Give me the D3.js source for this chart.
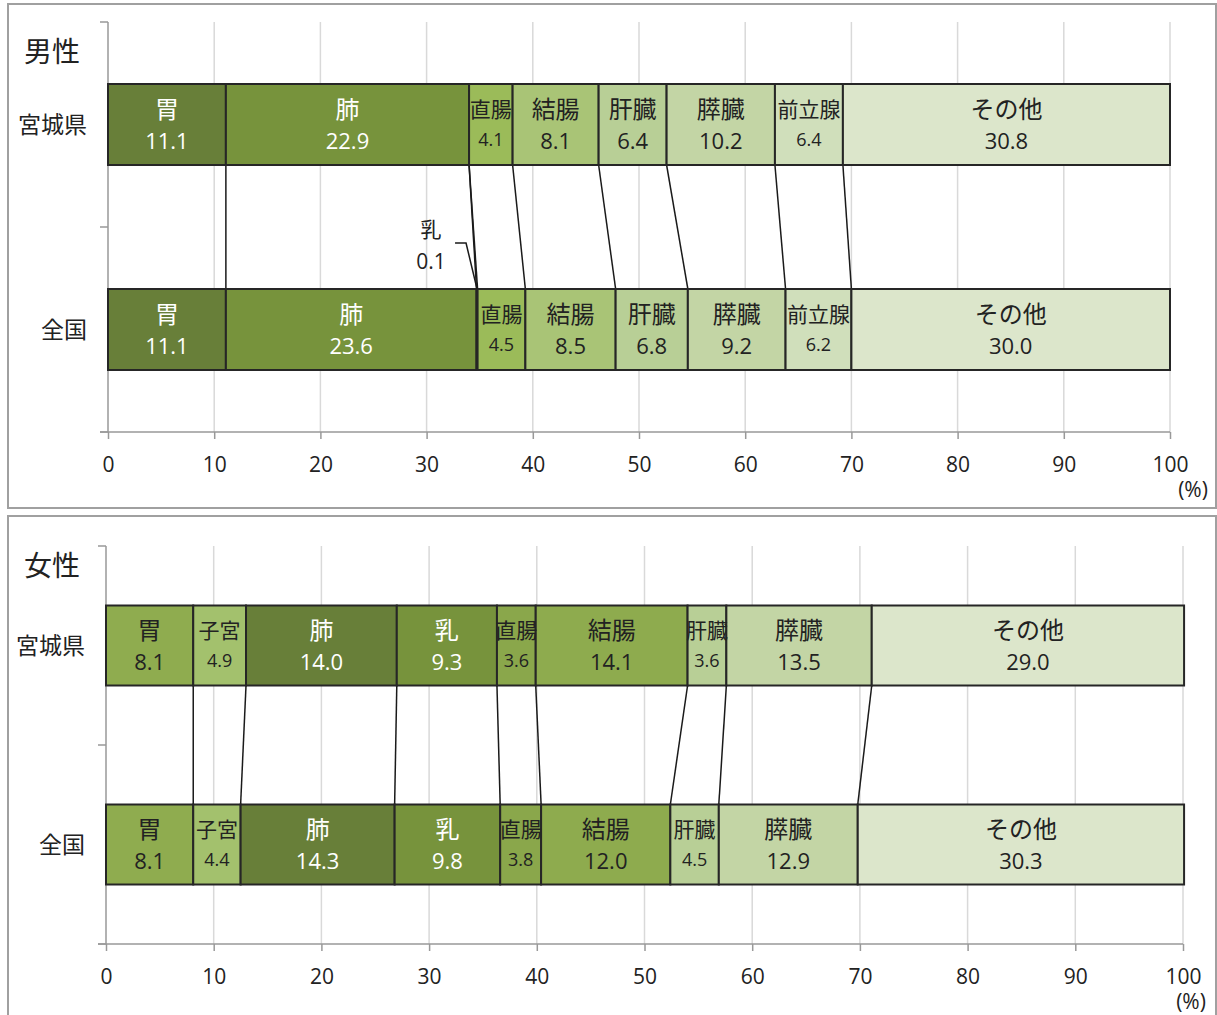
<!DOCTYPE html>
<html><head><meta charset="utf-8">
<script src="https://cdn.jsdelivr.net/npm/d3@7"></script>
<style>
html,body{margin:0;padding:0;background:#fff;}
svg{display:block;font-family:"Noto Sans CJK JP","Noto Sans",sans-serif;}
</style></head>
<body>
<script>
// ---- data ----
const regions = ['宮城県', '全国'];
const xTicks = [0, 10, 20, 30, 40, 50, 60, 70, 80, 90, 100];

const maleTitle = '男性';
const maleCats = ['胃', '肺', '乳', '直腸', '結腸', '肝臓', '膵臓', '前立腺', 'その他'];
const maleMiyagi = [11.1, 22.9, 0, 4.1, 8.1, 6.4, 10.2, 6.4, 30.8];
const maleNational = [11.1, 23.6, 0.1, 4.5, 8.5, 6.8, 9.2, 6.2, 30.0];
const maleColors = ['#687f39', '#77933c', '#8aa74a', '#9bbb59', '#a9c476', '#b8cf96', '#c3d5a5', '#d0dfbb', '#dce6cb'];
const maleText = ['#fff', '#fff', '#222', '#222', '#222', '#222', '#222', '#222', '#222'];

const femaleTitle = '女性';
const femaleCats = ['胃', '子宮', '肺', '乳', '直腸', '結腸', '肝臓', '膵臓', 'その他'];
const femaleMiyagi = [8.1, 4.9, 14.0, 9.3, 3.6, 14.1, 3.6, 13.5, 29.0];
const femaleNational = [8.1, 4.4, 14.3, 9.8, 3.8, 12.0, 4.5, 12.9, 30.3];
const femaleColors = ['#8fac4f', '#a3c16d', '#687f39', '#77933c', '#8aa74b', '#8eab4e', '#b8cf96', '#c3d5a5', '#dce6cb'];
const femaleText = ['#222', '#222', '#fff', '#fff', '#222', '#222', '#222', '#222', '#222'];

// ---- layout ----
const W = 1217, H = 1015;
const svg = d3.select('body').append('svg').attr('width', W).attr('height', H);

const panels = [
  {title: maleTitle, cats: maleCats, vals: [maleMiyagi, maleNational], colors: maleColors, text: maleText,
   frame: [8, 4, 1208, 504], x0: 108, x1: 1170, yTop: 22, yBot: 432, barH: 81, titleY: 52, pctX: 1193},
  {title: femaleTitle, cats: femaleCats, vals: [femaleMiyagi, femaleNational], colors: femaleColors, text: femaleText,
   frame: [8, 516, 1208, 510], x0: 106, x1: 1183, yTop: 546, yBot: 944, barH: 80, titleY: 566, pctX: 1191}
];

panels.forEach(p => {
  const g = svg.append('g');
  g.append('rect').attr('x', p.frame[0]).attr('y', p.frame[1]).attr('width', p.frame[2]).attr('height', p.frame[3])
    .attr('fill', '#fff').attr('stroke', '#a0a0a0').attr('stroke-width', 2);

  const x = d3.scaleLinear().domain([0, 100]).range([p.x0, p.x1]);
  const y = d3.scalePoint().domain(regions).range([p.yTop, p.yBot]).padding(0.5);
  const step = y.step();

  // gridlines
  g.append('g').selectAll('line').data(xTicks.filter(t => t > 0)).join('line')
    .attr('x1', d => x(d)).attr('x2', d => x(d)).attr('y1', p.yTop).attr('y2', p.yBot)
    .attr('stroke', '#d9d9d9').attr('stroke-width', 1.5);

  // y axis
  g.append('line').attr('x1', p.x0).attr('x2', p.x0).attr('y1', p.yTop).attr('y2', p.yBot)
    .attr('stroke', '#999').attr('stroke-width', 1.5);
  const yEdges = [p.yTop, p.yTop + step, p.yBot];
  g.append('g').selectAll('line').data(yEdges).join('line')
    .attr('x1', p.x0 - 8).attr('x2', p.x0).attr('y1', d => d).attr('y2', d => d)
    .attr('stroke', '#999').attr('stroke-width', 1.5);

  // x axis
  const ax = g.append('g').attr('transform', `translate(0,${p.yBot})`)
    .call(d3.axisBottom(x).tickValues(xTicks).tickSize(7).tickSizeOuter(0).tickFormat(d3.format('d')));
  ax.select('.domain').remove();
  ax.append('line').attr('x1', p.x0 - 8).attr('x2', p.x1).attr('stroke', '#999').attr('stroke-width', 1.5);
  ax.selectAll('.tick line').attr('stroke', '#999').attr('stroke-width', 1.5);
  ax.selectAll('.tick text').attr('y', 33).attr('dy', '0.35em').attr('font-size', 21)
    .attr('fill', '#222').attr('font-family', '"Open Sans","Noto Sans CJK JP",sans-serif');
  g.append('text').attr('x', p.pctX).attr('y', p.yBot + 58).attr('dy', '0.35em').attr('text-anchor', 'middle')
    .attr('font-size', 21).attr('fill', '#222').attr('font-family', '"Open Sans",sans-serif').text('(%)');

  // title
  g.append('text').attr('x', 52).attr('y', p.titleY).attr('dy', '0.35em').attr('text-anchor', 'middle')
    .attr('font-size', 28).attr('fill', '#222').text(p.title);

  // category labels
  g.append('g').selectAll('text').data(regions).join('text')
    .attr('x', p.x0 - 21).attr('y', d => y(d)).attr('dy', '0.35em').attr('text-anchor', 'end')
    .attr('font-size', 23).attr('fill', '#222').text(d => d);

  // stacked segments
  const segs = [];
  regions.forEach((r, ri) => {
    let acc = 0;
    p.cats.forEach((c, ci) => {
      const v = p.vals[ri][ci];
      segs.push({r, ri, c, ci, v, start: acc, end: acc + v});
      acc += v;
    });
  });

  // series lines between bars
  const lines = p.cats.slice(0, -1).map((c, ci) => {
    const a = segs.find(s => s.ri === 0 && s.ci === ci);
    const b = segs.find(s => s.ri === 1 && s.ci === ci);
    return {a: a.end, b: b.end};
  });
  g.append('g').selectAll('line').data(lines).join('line')
    .attr('x1', d => x(d.a)).attr('y1', y(regions[0]) + p.barH / 2)
    .attr('x2', d => x(d.b)).attr('y2', y(regions[1]) - p.barH / 2)
    .attr('stroke', '#1a1a1a').attr('stroke-width', 1.5);

  const shown = segs.filter(s => s.v > 0);
  g.append('g').selectAll('rect').data(shown).join('rect')
    .attr('x', d => x(d.start)).attr('width', d => x(d.end) - x(d.start))
    .attr('y', d => y(d.r) - p.barH / 2).attr('height', p.barH)
    .attr('fill', d => p.colors[d.ci]).attr('stroke', '#262626').attr('stroke-width', 2);

  // labels inside
  shown.forEach(s => {
    const wpx = x(s.end) - x(s.start);
    const cx = (x(s.start) + x(s.end)) / 2;
    const cy = y(s.r);
    if (wpx < 20) {
      // outside label with leader
      const top = cy - p.barH / 2;
      g.append('text').attr('x', cx - 46).attr('y', top - 59).attr('dy', '0.35em').attr('text-anchor', 'middle')
        .attr('font-size', 21).attr('fill', '#222').text(s.c);
      g.append('text').attr('x', cx - 46).attr('y', top - 27).attr('dy', '0.35em').attr('text-anchor', 'middle')
        .attr('font-size', 21).attr('fill', '#222').attr('font-family', '"Open Sans",sans-serif').text(s.v.toFixed(1));
      g.append('polyline').attr('points', `${cx - 22},${top - 46} ${cx - 11},${top - 46} ${cx},${top}`)
        .attr('fill', 'none').attr('stroke', '#1a1a1a').attr('stroke-width', 1.5);
      return;
    }
    const small = wpx < 60 || s.c.length > 2 && wpx < 80;
    const nameSize = small ? 21 : 24;
    const valSize = small ? 18 : 22;
    g.append('text').attr('x', cx).attr('y', cy - 15).attr('dy', '0.35em').attr('text-anchor', 'middle')
      .attr('font-size', nameSize).attr('fill', p.text[s.ci]).text(s.c);
    g.append('text').attr('x', cx).attr('y', cy + (small ? 15 : 17)).attr('dy', '0.35em').attr('text-anchor', 'middle')
      .attr('font-size', valSize).attr('fill', p.text[s.ci])
      .attr('font-family', '"Open Sans","Noto Sans CJK JP",sans-serif').text(s.v.toFixed(1));
  });
});
</script>
</body></html>
